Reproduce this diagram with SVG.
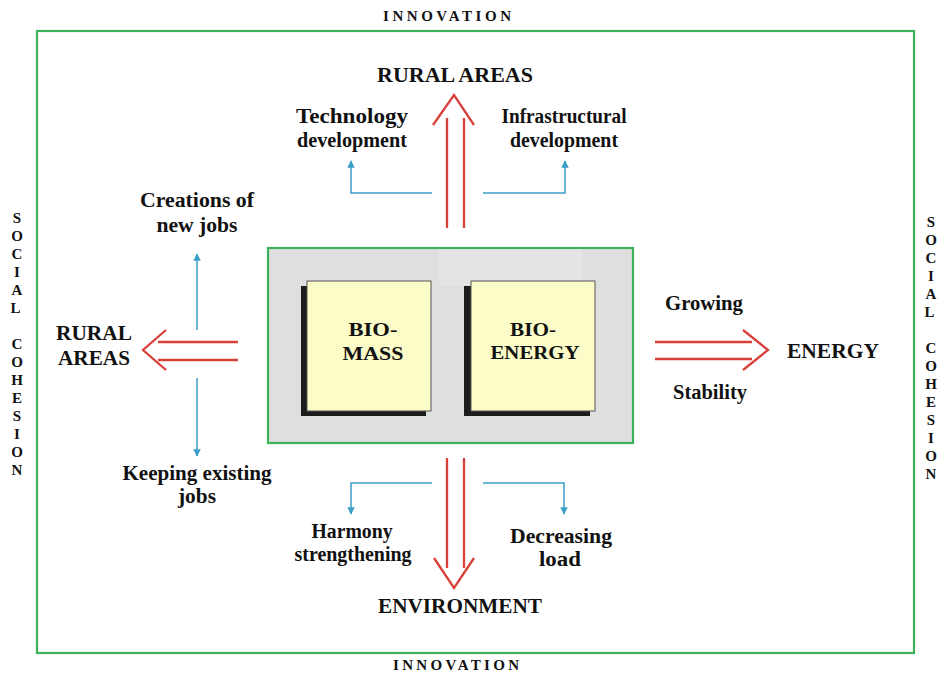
<svg xmlns="http://www.w3.org/2000/svg" width="940" height="673" viewBox="0 0 940 673">
  <style>
    .frame { fill: none; stroke: #3cb35a; stroke-width: 2.2; }
    .lbl { font-family: "Liberation Serif", "Times New Roman", serif; font-weight: bold; fill: #111; text-anchor: middle; }
    .lbl20 { font-size: 20px; }
    .box-title { font-size: 19px; }
    .side { font-family: "Liberation Serif", "Times New Roman", serif; font-weight: bold; font-size: 15px; fill: #111; text-anchor: middle; }
    .red { fill: none; stroke: #d9403a; stroke-width: 2.3; stroke-linejoin: miter; }
    .blue { fill: none; stroke: #3a9fc6; stroke-width: 1.5; }
    .card { fill: #fcfcc8; stroke: #555; stroke-width: 1; }
    .shadow { fill: #1c1c1c; }
  </style>
  <defs>
    <marker id="bluehead" viewBox="0 0 10 10" refX="9" refY="5" markerWidth="5" markerHeight="5" orient="auto" markerUnits="strokeWidth">
      <path d="M0,0 L10,5 L0,10 z" fill="#3a9fc6"/>
    </marker>
  </defs>

  <rect width="940" height="673" fill="#ffffff"/>

  <!-- outer boundary -->
  <g id="outer-frame">
    <rect class="frame" x="37" y="31" width="877" height="622"/>
  </g>

  <!-- INNOVATION labels -->
  <g id="innovation-top">
    <text class="side" x="447" y="21" textLength="128" lengthAdjust="spacing">INNOVATION</text>
  </g>
  <g id="innovation-bottom">
    <text class="side" x="456" y="670" textLength="126" lengthAdjust="spacing">INNOVATION</text>
  </g>

  <!-- SOCIAL COHESION labels (vertical stacks) -->
  <g id="social-cohesion-left">
    <text class="side">
      <tspan x="17" y="223">S</tspan><tspan x="17" y="241">O</tspan><tspan x="17" y="259">C</tspan><tspan x="17" y="277">I</tspan><tspan x="17" y="295">A</tspan><tspan x="17" y="313">L</tspan>
      <tspan x="17" y="349">C</tspan><tspan x="17" y="367">O</tspan><tspan x="17" y="385">H</tspan><tspan x="17" y="403">E</tspan><tspan x="17" y="421">S</tspan><tspan x="17" y="439">I</tspan><tspan x="17" y="457">O</tspan><tspan x="17" y="475">N</tspan>
    </text>
  </g>
  <g id="social-cohesion-right">
    <text class="side">
      <tspan x="931" y="227">S</tspan><tspan x="931" y="245">O</tspan><tspan x="931" y="263">C</tspan><tspan x="931" y="281">I</tspan><tspan x="931" y="299">A</tspan><tspan x="931" y="317">L</tspan>
      <tspan x="931" y="353">C</tspan><tspan x="931" y="371">O</tspan><tspan x="931" y="389">H</tspan><tspan x="931" y="407">E</tspan><tspan x="931" y="425">S</tspan><tspan x="931" y="443">I</tspan><tspan x="931" y="461">O</tspan><tspan x="931" y="479">N</tspan>
    </text>
  </g>

  <!-- central panel -->
  <g id="core-panel">
    <rect x="268" y="248" width="365" height="195" fill="#dfdfdf" stroke="#3cb35a" stroke-width="2.2"/>
    <rect x="439" y="249.5" width="144" height="36" fill="#e4e4e4"/>
  </g>

  <g id="biomass">
    <rect class="shadow" x="301" y="286" width="125" height="130"/>
    <rect class="card" x="307" y="281" width="124" height="130"/>
    <text class="lbl box-title" x="373" y="336" textLength="49" lengthAdjust="spacingAndGlyphs">BIO-</text>
    <text class="lbl box-title" x="373" y="360" textLength="61" lengthAdjust="spacingAndGlyphs">MASS</text>
  </g>

  <g id="bioenergy">
    <rect class="shadow" x="464" y="286" width="126" height="130"/>
    <rect class="card" x="471" y="281" width="124" height="130"/>
    <text class="lbl box-title" x="533" y="336" textLength="46" lengthAdjust="spacingAndGlyphs">BIO-</text>
    <text class="lbl box-title" x="535" y="359" textLength="89" lengthAdjust="spacingAndGlyphs">ENERGY</text>
  </g>

  <!-- connectors -->
  <g id="connectors">
    <!-- up: rural areas -->
    <line class="red" x1="447" y1="118" x2="447" y2="228"/>
    <line class="red" x1="464" y1="118" x2="464" y2="228"/>
    <polyline class="red" points="433,125 454,95 474,125"/>
    <polyline class="blue" points="432,193 351,193 351,161" marker-end="url(#bluehead)"/>
    <polyline class="blue" points="483,193 565,193 565,161" marker-end="url(#bluehead)"/>

    <!-- left: rural areas -->
    <line class="red" x1="158" y1="342" x2="238" y2="342"/>
    <line class="red" x1="158" y1="360" x2="238" y2="360"/>
    <polyline class="red" points="166,330 143,350 166,370"/>
    <line class="blue" x1="197" y1="330" x2="197" y2="254" marker-end="url(#bluehead)"/>
    <line class="blue" x1="197" y1="378" x2="197" y2="456" marker-end="url(#bluehead)"/>

    <!-- right: energy -->
    <line class="red" x1="655" y1="342" x2="752" y2="342"/>
    <line class="red" x1="655" y1="359" x2="752" y2="359"/>
    <polyline class="red" points="743,330 768,350 743,370"/>

    <!-- down: environment -->
    <line class="red" x1="447" y1="458" x2="447" y2="568"/>
    <line class="red" x1="464" y1="458" x2="464" y2="568"/>
    <polyline class="red" points="434,558 454,588 474,558"/>
    <polyline class="blue" points="432,483 351,483 351,514" marker-end="url(#bluehead)"/>
    <polyline class="blue" points="483,483 564,483 564,514" marker-end="url(#bluehead)"/>
  </g>

  <!-- outcome labels -->
  <g id="rural-areas-top">
    <text class="lbl lbl20" x="455" y="82" textLength="156" lengthAdjust="spacingAndGlyphs">RURAL AREAS</text>
  </g>
  <g id="technology-development">
    <text class="lbl lbl20" x="352" y="123" textLength="112" lengthAdjust="spacingAndGlyphs">Technology</text>
    <text class="lbl lbl20" x="352" y="147" textLength="110" lengthAdjust="spacingAndGlyphs">development</text>
  </g>
  <g id="infrastructural-development">
    <text class="lbl lbl20" x="564" y="123" textLength="125" lengthAdjust="spacingAndGlyphs">Infrastructural</text>
    <text class="lbl lbl20" x="564" y="147" textLength="108" lengthAdjust="spacingAndGlyphs">development</text>
  </g>
  <g id="new-jobs">
    <text class="lbl lbl20" x="197" y="207" textLength="114" lengthAdjust="spacingAndGlyphs">Creations of</text>
    <text class="lbl lbl20" x="197" y="232" textLength="81" lengthAdjust="spacingAndGlyphs">new jobs</text>
  </g>
  <g id="rural-areas-left">
    <text class="lbl lbl20" x="94" y="340" textLength="76" lengthAdjust="spacingAndGlyphs">RURAL</text>
    <text class="lbl lbl20" x="94" y="365" textLength="72" lengthAdjust="spacingAndGlyphs">AREAS</text>
  </g>
  <g id="existing-jobs">
    <text class="lbl lbl20" x="197" y="480" textLength="149" lengthAdjust="spacingAndGlyphs">Keeping existing</text>
    <text class="lbl lbl20" x="197" y="503" textLength="38" lengthAdjust="spacingAndGlyphs">jobs</text>
  </g>
  <g id="growing">
    <text class="lbl lbl20" x="704" y="310" textLength="78" lengthAdjust="spacingAndGlyphs">Growing</text>
  </g>
  <g id="stability">
    <text class="lbl lbl20" x="710" y="399" textLength="74" lengthAdjust="spacingAndGlyphs">Stability</text>
  </g>
  <g id="energy">
    <text class="lbl lbl20" x="833" y="358" textLength="92" lengthAdjust="spacingAndGlyphs">ENERGY</text>
  </g>
  <g id="harmony-strengthening">
    <text class="lbl lbl20" x="352" y="538" textLength="81" lengthAdjust="spacingAndGlyphs">Harmony</text>
    <text class="lbl lbl20" x="353" y="561" textLength="117" lengthAdjust="spacingAndGlyphs">strengthening</text>
  </g>
  <g id="decreasing-load">
    <text class="lbl lbl20" x="561" y="543" textLength="102" lengthAdjust="spacingAndGlyphs">Decreasing</text>
    <text class="lbl lbl20" x="560" y="566" textLength="42" lengthAdjust="spacingAndGlyphs">load</text>
  </g>
  <g id="environment">
    <text class="lbl lbl20" x="460" y="613" textLength="164" lengthAdjust="spacingAndGlyphs">ENVIRONMENT</text>
  </g>
</svg>
